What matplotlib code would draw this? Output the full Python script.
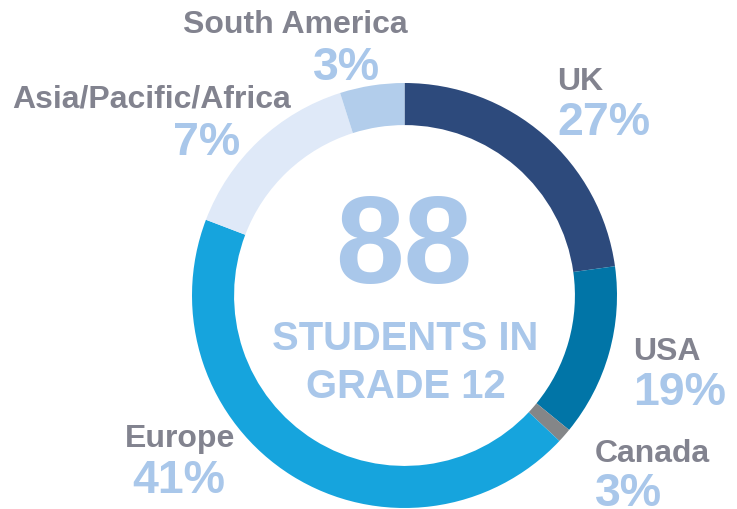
import matplotlib
matplotlib.use("Agg")
import matplotlib.pyplot as plt

regions = ["UK", "USA", "Canada", "Europe", "Asia/Pacific/Africa", "South America"]
arc_share = [22.8, 13.1, 1.1, 43.8, 14.3, 4.9]
pct_labels = ["27%", "19%", "3%", "41%", "7%", "3%"]
colors = ["#2d4a7c", "#0175a7", "#848688", "#16a4dd", "#dfe9f8", "#b2cdeb"]

total_students = "88"
center_lines = ["STUDENTS IN", "GRADE 12"]

gray = "#82838f"
light_blue = "#a9c7ea"

plt.rcParams['font.family'] = ['Liberation Sans', 'DejaVu Sans']

fig = plt.figure(figsize=(7.37, 5.10), dpi=100)
ax = fig.add_axes([0, 0, 1, 1])

cx, cy, r = 404.5, 213.5, 212.5
ax.pie(arc_share, colors=colors, startangle=90, counterclock=False,
       center=(cx, cy), radius=r, frame=True,
       wedgeprops=dict(width=r * 0.198, linewidth=0))
ax.set_xlim(0, 737)
ax.set_ylim(0, 510)
ax.set_aspect("equal")
ax.axis("off")

# label positions: left edge, label baseline, percent baseline (pixels from top)
pos = {
    "UK": (557, 90, 135),
    "USA": (633, 360, 405),
    "Canada": (595, 462, 506),
    "Europe": (125, 447, 493),
    "Asia/Pacific/Africa": (12, 108, 155),
    "South America": (183, 33, 80),
}
pct_x = {"Europe": 132, "Asia/Pacific/Africa": 173, "South America": 313}

for name, pct in zip(regions, pct_labels):
    x, yl, yp = pos[name]
    ax.text(x, 510 - yl, name, fontsize=23, fontweight="bold", color=gray,
            ha="left", va="baseline")
    ax.text(pct_x.get(name, x), 510 - yp, pct, fontsize=33.5, fontweight="bold",
            color=light_blue, ha="left", va="baseline")

ax.text(cx - 1, 510 - 283, total_students, fontsize=89, fontweight="bold",
        color=light_blue, ha="center", va="baseline")
ax.text(cx + 1, 510 - 350, center_lines[0], fontsize=28.8, fontweight="bold",
        color=light_blue, ha="center", va="baseline")
ax.text(cx + 1, 510 - 398, center_lines[1], fontsize=28.8, fontweight="bold",
        color=light_blue, ha="center", va="baseline")

fig.savefig("out.png", dpi=100)
